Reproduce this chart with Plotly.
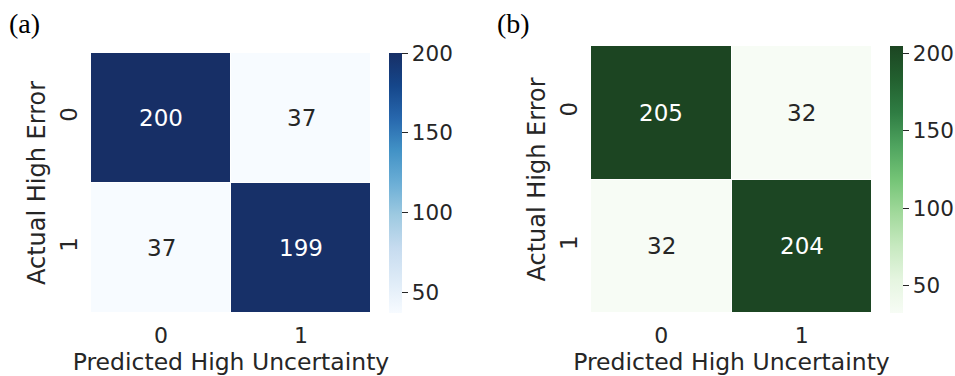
import plotly.graph_objects as go

# Confusion matrices: rows = actual high error, columns = predicted high uncertainty
classes = ["0", "1"]
counts_a = [[200, 37],
            [37, 199]]
counts_b = [[205, 32],
            [32, 204]]
cbar_ticks = [50, 100, 150, 200]

W, H = 955, 376
FONT = "DejaVu Sans"
INK = "#262626"

blues = [[0.0, "#f7fbff"], [0.125, "#deebf7"], [0.25, "#c6dbef"], [0.375, "#9ecae1"],
         [0.5, "#6baed6"], [0.625, "#4292c6"], [0.75, "#2767ad"], [0.875, "#15468a"],
         [1.0, "#172f66"]]
greens = [[0.0, "#f7fcf5"], [0.125, "#e5f5e0"], [0.25, "#c7e9c0"], [0.375, "#a1d99b"],
          [0.5, "#74c476"], [0.625, "#4fa45f"], [0.75, "#2f7d43"], [0.875, "#22602f"],
          [1.0, "#1c4522"]]


def px_x(p):
    return p / W


def px_y(p):
    return 1 - p / H


fig = go.Figure()

panels = [
    dict(z=counts_a, cs=blues, xd=(91, 371), yd=(53, 313), cbx=389, xa="x", ya="y"),
    dict(z=counts_b, cs=greens, xd=(591, 872), yd=(46, 313), cbx=890, xa="x2", ya="y2"),
]

for p in panels:
    z = p["z"]
    flat = [v for row in z for v in row]
    zmin, zmax = min(flat), max(flat)
    y0, y1 = px_y(p["yd"][1]), px_y(p["yd"][0])
    fig.add_trace(go.Heatmap(
        z=z, x=classes, y=classes, colorscale=p["cs"], zmin=zmin, zmax=zmax,
        xgap=1, ygap=1, xaxis=p["xa"], yaxis=p["ya"], hoverinfo="skip",
        colorbar=dict(
            x=px_x(p["cbx"]), xanchor="left", thickness=13, thicknessmode="pixels",
            len=(y1 - y0), lenmode="fraction", y=(y0 + y1) / 2, yanchor="middle",
            xpad=0, ypad=0,
            outlinewidth=0, tickvals=cbar_ticks, ticks="outside", ticklen=6,
            tickwidth=1.2, tickcolor=INK,
            tickfont=dict(family=FONT, size=21.5, color=INK),
        ),
    ))
    # cell value labels
    for i, row in enumerate(z):
        for j, v in enumerate(row):
            dark = (v - zmin) / (zmax - zmin) > 0.5
            fig.add_annotation(
                x=classes[j], y=classes[i], xref=p["xa"], yref=p["ya"],
                text=str(v), showarrow=False,
                font=dict(family=FONT, size=23, color="white" if dark else INK),
            )

axis_common = dict(
    showgrid=False, zeroline=False, showline=False, ticks="",
    tickfont=dict(family=FONT, size=23, color=INK),
)

layout_axes = {}
for k, p in enumerate(panels):
    sx = "" if k == 0 else str(k + 1)
    layout_axes["xaxis" + sx] = dict(
        axis_common, domain=[px_x(p["xd"][0]), px_x(p["xd"][1])],
        anchor="y" + sx, ticklabelstandoff=7,
        tickfont=dict(family=FONT, size=22, color=INK),
        title=dict(text="Predicted High Uncertainty", standoff=5,
                   font=dict(family=FONT, size=23.5, color=INK)),
    )
    layout_axes["yaxis" + sx] = dict(
        axis_common, domain=[px_y(p["yd"][1]), px_y(p["yd"][0])],
        anchor="x" + sx, autorange="reversed", tickangle=-90, ticklabelstandoff=8,
        title=dict(text="Actual High Error", standoff=4,
                   font=dict(family=FONT, size=24, color=INK)),
    )

fig.update_layout(
    width=W, height=H, margin=dict(l=0, r=0, t=0, b=0, autoexpand=False),
    paper_bgcolor="white", plot_bgcolor="white", showlegend=False,
    **layout_axes,
)

# panel letters
for label, xp in [("(a)", 7), ("(b)", 495)]:
    fig.add_annotation(
        x=px_x(xp), y=px_y(23), xref="paper", yref="paper", xanchor="left",
        yanchor="middle", text=label, showarrow=False,
        font=dict(family="Liberation Serif", size=28, color="black"),
    )

fig.write_html("out.html")
